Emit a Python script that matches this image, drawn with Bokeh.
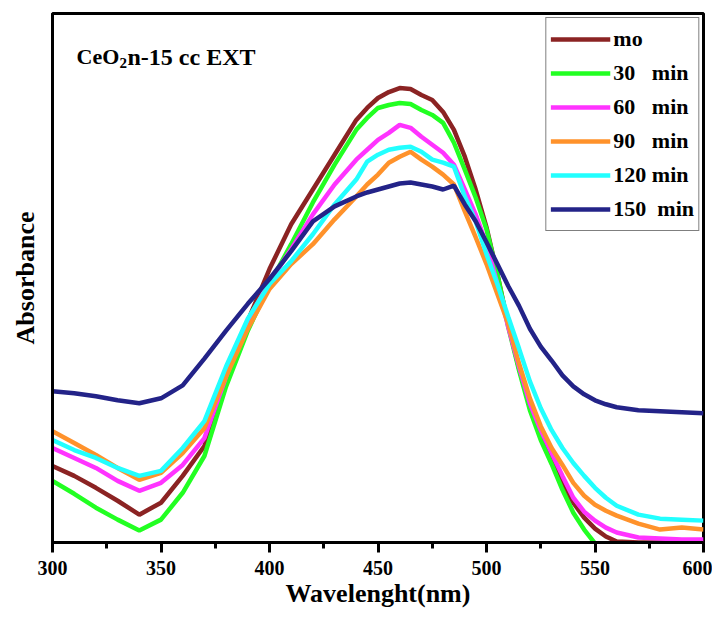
from bokeh.plotting import figure
from bokeh.models import (Range1d, SingleIntervalTicker, FixedTicker, Legend,
                          LegendItem, Label)
from bokeh.embed import file_html
from bokeh.resources import INLINE

# ---------------- data ----------------
wavelength = [300, 310, 320, 330, 340, 350, 360, 370, 380, 390, 400, 410, 420, 430, 440,
              445, 450, 455, 460, 465, 470, 475, 480, 485, 490, 495, 500, 505, 510, 515,
              520, 525, 530, 535, 540, 545, 550, 555, 560, 570, 580, 590, 600]

abs_mo = [0.385, 0.335, 0.275, 0.21, 0.14, 0.2, 0.335, 0.485, 0.835, 1.115, 1.375, 1.6, 1.775, 1.95, 2.125,
          2.185, 2.235, 2.265, 2.285, 2.28, 2.25, 2.225, 2.165, 2.075, 1.94, 1.775, 1.585, 1.35, 1.095, 0.875,
          0.685, 0.54, 0.425, 0.3, 0.2, 0.125, 0.07, 0.03, 0.005, 0.0, 0.0, 0.0, 0.0]

abs_30 = [0.31, 0.245, 0.175, 0.115, 0.06, 0.115, 0.25, 0.435, 0.785, 1.065, 1.3, 1.5, 1.71, 1.9, 2.075,
          2.135, 2.185, 2.2, 2.21, 2.205, 2.175, 2.15, 2.11, 2.01, 1.875, 1.735, 1.575, 1.35, 1.085, 0.865,
          0.665, 0.515, 0.395, 0.265, 0.15, 0.065, -0.005, -0.075, -0.15, -0.275, -0.375, -0.475, -0.575]

abs_60 = [0.475, 0.425, 0.375, 0.31, 0.26, 0.3, 0.39, 0.525, 0.835, 1.115, 1.31, 1.475, 1.65, 1.8, 1.925,
          1.975, 2.025, 2.06, 2.1, 2.085, 2.04, 2.0, 1.96, 1.9, 1.775, 1.65, 1.5, 1.3, 1.085, 0.885,
          0.7, 0.565, 0.45, 0.335, 0.225, 0.155, 0.11, 0.075, 0.05, 0.025, 0.02, 0.015, 0.015]

abs_90 = [0.56, 0.5, 0.44, 0.375, 0.315, 0.35, 0.45, 0.575, 0.835, 1.075, 1.275, 1.4, 1.5, 1.625, 1.74,
          1.8, 1.85, 1.91, 1.94, 1.965, 1.925, 1.89, 1.85, 1.8, 1.665, 1.535, 1.4, 1.25, 1.1, 0.9,
          0.725, 0.585, 0.475, 0.39, 0.3, 0.235, 0.19, 0.16, 0.135, 0.095, 0.065, 0.075, 0.065]

abs_120 = [0.515, 0.465, 0.425, 0.375, 0.335, 0.36, 0.475, 0.61, 0.885, 1.125, 1.3, 1.415, 1.55, 1.7, 1.825,
           1.915, 1.95, 1.975, 1.985, 1.99, 1.965, 1.925, 1.91, 1.89, 1.74, 1.615, 1.45, 1.3, 1.135, 0.975,
           0.81, 0.675, 0.565, 0.475, 0.4, 0.335, 0.275, 0.225, 0.185, 0.14, 0.12, 0.115, 0.11]

abs_150 = [0.76, 0.75, 0.735, 0.715, 0.7, 0.725, 0.79, 0.925, 1.065, 1.2, 1.325, 1.465, 1.615, 1.69, 1.74,
           1.76, 1.775, 1.79, 1.805, 1.81, 1.8, 1.79, 1.775, 1.795, 1.7, 1.615, 1.51, 1.4, 1.29, 1.19,
           1.075, 0.985, 0.915, 0.84, 0.785, 0.745, 0.715, 0.695, 0.68, 0.665, 0.66, 0.655, 0.65]

series = [abs_mo, abs_30, abs_60, abs_90, abs_120, abs_150]
series_labels = ["mo", "30 \u00a0 min", "60 \u00a0 min", "90 \u00a0 min", "120 min", "150 \u00a0min"]
colors = ["#8B2323", "#22FF22", "#FF33FF", "#FF922B", "#22FFFF", "#232388"]

x_label = "Wavelenght(nm)"
y_label = "Absorbance"

FONT = "Liberation Serif"

# ---------------- figure ----------------
p = figure(width=712, height=613, output_backend="svg", toolbar_location=None,
           x_range=Range1d(300, 600), y_range=Range1d(0, 2.66),
           min_border_left=52, min_border_right=9, min_border_top=13, min_border_bottom=71)
p.xgrid.visible = False
p.ygrid.visible = False
p.outline_line_color = "black"
p.outline_line_width = 3
p.background_fill_color = "white"
p.border_fill_color = "white"

xa = p.xaxis[0]
xa.ticker = SingleIntervalTicker(interval=50, num_minor_ticks=2)
xa.axis_line_width = 3
xa.axis_line_color = "black"
xa.major_tick_line_width = 3
xa.major_tick_out = 10
xa.major_tick_in = 0
xa.minor_tick_line_width = 3
xa.minor_tick_out = 6
xa.minor_tick_in = 0
xa.major_label_text_font = FONT
xa.major_label_text_font_size = "20px"
xa.major_label_text_font_style = "bold"
xa.major_label_text_color = "black"
xa.major_label_standoff = 8
xa.axis_label = x_label
xa.axis_label_text_font = FONT
xa.axis_label_text_font_size = "26px"
xa.axis_label_text_font_style = "bold"
xa.axis_label_text_color = "black"
xa.axis_label_standoff = 1

ya = p.yaxis[0]
ya.ticker = FixedTicker(ticks=[])
ya.major_tick_out = 0
ya.major_tick_in = 0
ya.minor_tick_out = 0
ya.minor_tick_in = 0
ya.major_label_text_font_size = "0px"
ya.major_label_standoff = 0
ya.axis_line_width = 3
ya.axis_line_color = "black"
ya.axis_label = y_label
ya.axis_label_text_font = FONT
ya.axis_label_text_font_size = "26px"
ya.axis_label_text_font_style = "bold"
ya.axis_label_text_color = "black"
ya.axis_label_standoff = 13

items = []
for ys, lab, col in zip(series, series_labels, colors):
    r = p.line(wavelength, ys, line_color=col, line_width=4.5)
    items.append(LegendItem(label=lab, renderers=[r]))

legend = Legend(items=items, location="top_right", margin=4, padding=4, spacing=0,
                glyph_width=60, glyph_height=34, label_height=34, label_width=80,
                label_standoff=3, border_line_color="black", border_line_width=1,
                background_fill_color="white", background_fill_alpha=1,
                label_text_font=FONT, label_text_font_size="22px",
                label_text_font_style="bold", label_text_color="black")
p.add_layout(legend)

# sample label  CeO2n-15 cc EXT
p.add_layout(Label(x=24, y=486, x_units="screen", y_units="screen", text="CeO",
                   text_font=FONT, text_font_size="22px", text_font_style="bold",
                   text_baseline="alphabetic", text_color="black"))
p.add_layout(Label(x=67, y=480, x_units="screen", y_units="screen", text="2",
                   text_font=FONT, text_font_size="15px", text_font_style="bold",
                   text_baseline="alphabetic", text_color="black"))
p.add_layout(Label(x=75, y=486, x_units="screen", y_units="screen", text="n-15 cc EXT",
                   text_font=FONT, text_font_size="24px", text_font_style="bold",
                   text_baseline="alphabetic", text_color="black"))

open("out.html", "w").write(file_html(p, INLINE))
